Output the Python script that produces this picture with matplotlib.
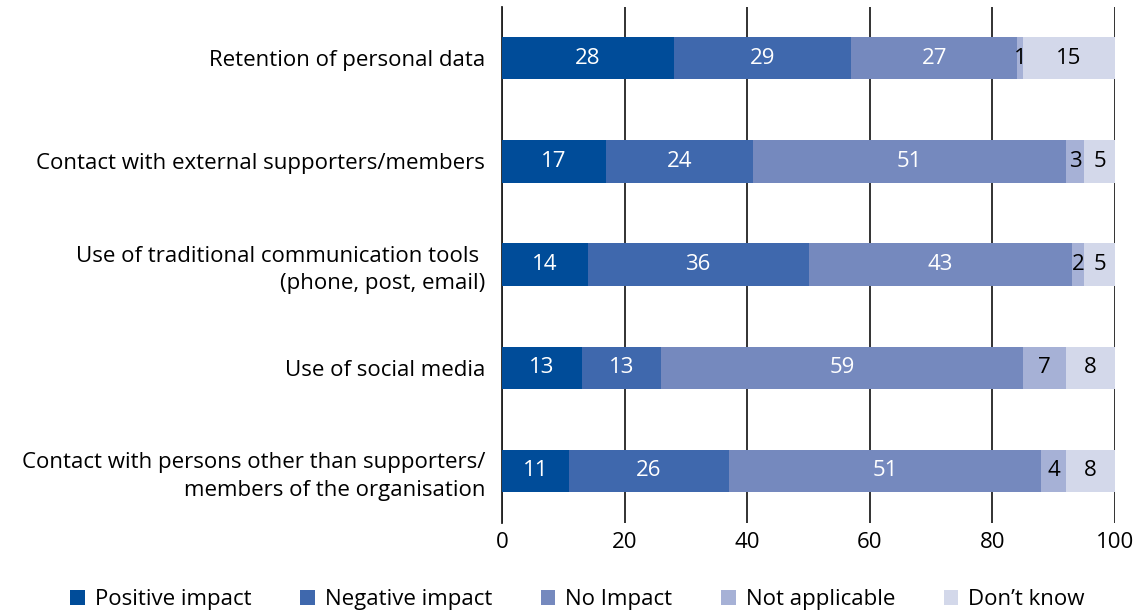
import matplotlib.pyplot as plt
import numpy as np

plt.rcParams['font.family'] = ['Open Sans', 'DejaVu Sans']

# Survey items and the share of answers per category (%)
items = [
    'Retention of personal data',
    'Contact with external supporters/members',
    'Use of traditional communication tools \n(phone, post, email)',
    'Use of social media',
    'Contact with persons other than supporters/\nmembers of the organisation',
]
categories = ['Positive impact', 'Negative impact', 'No Impact', 'Not applicable', "Don\u2019t know"]
positive = [28, 17, 14, 13, 11]
negative = [29, 24, 36, 13, 26]
no_impact = [27, 51, 43, 59, 51]
not_applicable = [1, 3, 2, 7, 4]
dont_know = [15, 5, 5, 8, 8]

colors = ['#004c99', '#3f68ad', '#7589be', '#a6b1d6', '#d3d8ea']
text_colors = ['white', 'white', 'white', 'black', 'black']

series = [positive, negative, no_impact, not_applicable, dont_know]

fig = plt.figure(figsize=(11.37, 6.10), dpi=100)
ax = fig.add_axes([0.4415, 0.1433, 0.5392, 0.846])

y = np.arange(len(items))
left = np.zeros(len(items))
for vals, col, tcol, name in zip(series, colors, text_colors, categories):
    vals = np.array(vals, dtype=float)
    ax.barh(y, vals, left=left, height=0.41, color=col, label=name, zorder=3)
    for yi, (l, v) in enumerate(zip(left, vals)):
        ax.text(l + v / 2, yi, f'{int(v)}', ha='center', va='center',
                color=tcol, fontsize=16, zorder=4)
    left += vals

ax.set_xlim(0, 100)
ax.set_ylim(len(items) - 0.5, -0.5)
ax.set_yticks(y)
ax.set_yticklabels(items, fontsize=16, linespacing=1.4)
ax.set_xticks(range(0, 101, 20))
ax.tick_params(axis='x', labelsize=16, length=0, pad=7)
ax.tick_params(axis='y', length=0, pad=12)
ax.xaxis.grid(True, color='#222222', linewidth=1.3, zorder=0)
for s in ['top', 'right', 'bottom']:
    ax.spines[s].set_visible(False)
ax.spines['left'].set_linewidth(1.3)
ax.spines['left'].set_color('#222222')

fig.legend(loc='lower center', bbox_to_anchor=(0.508, 0.0), ncol=5, frameon=False,
           fontsize=16, handlelength=0.65, handleheight=0.65, columnspacing=2.2,
           handletextpad=0.45, borderpad=0.0, borderaxespad=0.0)

fig.savefig('out.png', dpi=100)
